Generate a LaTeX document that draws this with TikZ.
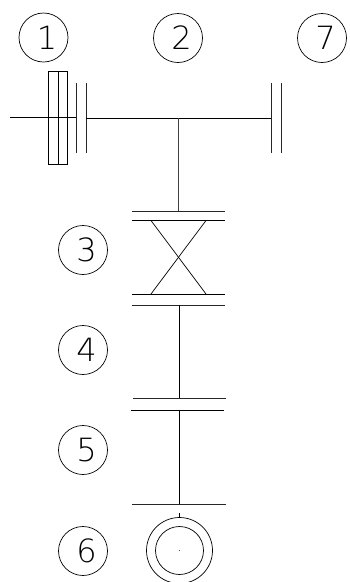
\documentclass[tikz,border=0pt]{standalone}
\usepackage{fontspec}
\setmainfont{DejaVu Sans ExtraLight}
\newcommand{\dg}[1]{\hspace*{7pt}#1}
\tikzset{
  x=1pt,y=-1pt,
  every path/.style={line width=0.7pt},
  tag/.style={draw,circle,minimum size=49pt,inner sep=0pt,font=\fontsize{32}{32}\selectfont},
  pipe/.style={line width=0.8pt},
  plate/.style={line width=0.7pt,black!85}
}
\begin{document}
\begin{tikzpicture}
\useasboundingbox (0,0) rectangle (349,582);
\node[tag] (n1) at (43.5,37.5) {\dg{1}};
\node[tag] (n2) at (178,38) {\dg{2}};
\node[tag] (n7) at (322,38) {\dg{7}};
\node[tag] (n3) at (83,250) {\dg{3}};
\node[tag] (n4) at (83,350) {\dg{4}};
\node[tag] (n5) at (83,450) {\dg{5}};
\node[tag] (n6) at (83,551) {\dg{6}};
% pulley
\node[draw,minimum width=9.5pt,minimum height=93pt,inner sep=0pt,outer sep=0pt,anchor=north west] (p1) at (48.5,71) {};
\node[draw,minimum width=9.5pt,minimum height=93pt,inner sep=0pt,outer sep=0pt,anchor=north west] (p2) at (58,71) {};
% bearings on the top shaft
\coordinate (a1) at (76,83); \coordinate (a2) at (76,153);
\coordinate (b1) at (86,83); \coordinate (b2) at (86,153);
\coordinate (c1) at (271,83); \coordinate (c2) at (271,153);
\coordinate (d1) at (281,83); \coordinate (d2) at (281,153);
\draw[plate] (a1)--(a2); \draw[plate] (b1)--(b2);
\draw[plate] (c1)--(c2); \draw[plate] (d1)--(d2);
\coordinate (s0) at (10,117); \coordinate (s1) at (76,117);
\coordinate (s2) at (86,118); \coordinate (s3) at (271,118);
\coordinate (j) at (178,118);
\draw[pipe] (s0)--(s1);
\draw[pipe] (s2)--(s3);
% upper gear
\coordinate (e1) at (132,211); \coordinate (e2) at (225,211);
\coordinate (f1) at (132,220.5); \coordinate (f2) at (225,220.5);
\coordinate (g1) at (132,294); \coordinate (g2) at (225,294);
\coordinate (h1) at (132,305); \coordinate (h2) at (225,305);
\coordinate (k) at (178,211);
\draw[plate] (e1)--(e2); \draw[pipe] (f1)--(f2);
\draw[pipe] (g1)--(g2); \draw[plate] (h1)--(h2);
\draw[pipe,black!75] (j)--(k);
\coordinate (x1) at (151,220.5); \coordinate (x2) at (206,294);
\coordinate (x3) at (206,220.5); \coordinate (x4) at (151,294);
\draw (x1)--(x2); \draw (x3)--(x4);
% lower shafts
\coordinate (m0) at (179.5,305); \coordinate (m1) at (179.5,398.5);
\coordinate (m2) at (179.5,410); \coordinate (m3) at (179.5,504);
\draw[pipe] (m0)--(m1); \draw[pipe] (m2)--(m3);
\coordinate (q1) at (133,398.5); \coordinate (q2) at (226,398.5);
\coordinate (r1) at (131,410); \coordinate (r2) at (224,410);
\coordinate (t1) at (132,504); \coordinate (t2) at (226,504);
\draw[plate] (q1)--(q2); \draw[pipe] (r1)--(r2); \draw[plate] (t1)--(t2);
% motor
\node[draw,circle,minimum size=66pt,inner sep=0pt] (o) at (179.5,550.5) {};
\node[draw,circle,minimum size=48pt,inner sep=0pt] (i) at (179.5,550.5) {};
\coordinate (st) at (179.5,513);
\draw (st)--(o.north);
\fill[black!70] (179.1,550.1) rectangle (180,551);
\end{tikzpicture}
\end{document}
